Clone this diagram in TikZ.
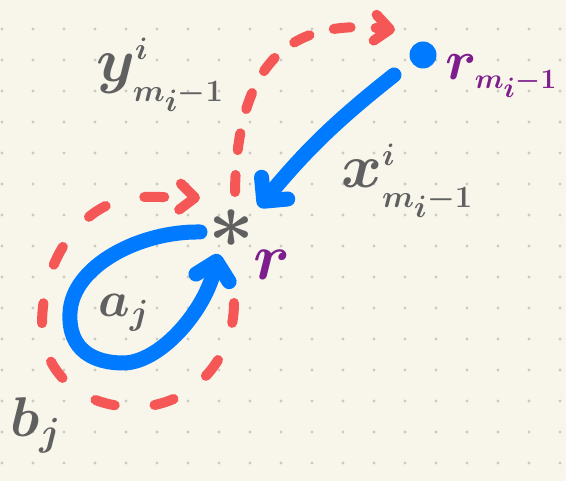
\RequirePackage{fix-cm}
\documentclass[tikz,border=0pt]{standalone}
\usetikzlibrary{arrows.meta}

\definecolor{paper}{RGB}{248,246,235}
\definecolor{dotgray}{RGB}{204,202,194}
\definecolor{penred}{RGB}{245,86,86}
\definecolor{penblue}{RGB}{0,122,255}
\definecolor{penpurple}{RGB}{126,30,140}
\definecolor{pengray}{RGB}{96,96,96}

\tikzset{
  bluepen/.style={penblue, line width=15pt, line cap=round, -{Straight Barb[round,length=17pt,width=34pt]}},
  redpen/.style={penred, line width=10pt, line cap=round, -{Straight Barb[round,length=15pt,width=26pt]}},
  inklabel/.style={inner sep=0pt, text=pengray, font=\fontsize{#1}{#1}\selectfont\boldmath},
}
\newcommand{\stepidx}{\scriptscriptstyle m_i-1}

\begin{document}
\begin{tikzpicture}[x=1pt,y=1pt]
% paper and dot grid:
\fill[paper] (0,0) rectangle (566,481);
\useasboundingbox (0,0) rectangle (566,481);
\foreach \i in {0,...,18}
  \foreach \j in {0,...,14}
    \fill[dotgray] (2+31*\i,452-31*\j) circle (1.7pt);

% points:
\node[circle, fill=penblue, minimum size=27pt, inner sep=0pt] (rprev) at (423,426) {};
\node[inklabel=80] (star) at (231,252) {$\ast$};
\coordinate (ytip) at ([shift={(-28,25)}]rprev.center);

% red dashed paths:
\draw[redpen, dash pattern=on 17pt off 25pt] ([shift={(4,37)}]star.center)
  .. controls (237,430) and (300,462) .. (ytip);
\draw[redpen, dash pattern=on 20pt off 40pt] ([shift={(3,-74)}]star.center)
  .. controls (234,120) and (190,74) .. (135,74)
  .. controls (80,74) and (42,110) .. (42,156)
  .. controls (42,230) and (90,284) .. (142,284)
  .. controls (165,284) and (185,284) .. ([shift={(-31,31)}]star.center);

% blue paths:
\draw[bluepen] ([shift={(-29,-20)}]rprev.center) to[bend right=6] ([shift={(28,22)}]star.center);
\draw[bluepen] ([shift={(-31,-3)}]star.center)
  .. controls (140,250) and (72,215) .. (70,168)
  .. controls (68,130) and (95,118) .. (123,118)
  .. controls (160,118) and (205,170) .. ([shift={(-13,-25)}]star.center);

% labels:
\node[inklabel=62, anchor=base west] (ylab) at (96,399) {$y^{\scriptscriptstyle i}_{\stepidx}$};
\node[inklabel=62, anchor=base west] (xlab) at (341,293) {$x^{\scriptscriptstyle i}_{\stepidx}$};
\node[inklabel=56, anchor=base west, text=penpurple] (rprevlab) at (445,401) {$r_{\stepidx}$};
\node[inklabel=66, anchor=base west, text=penpurple] (rlab) at (253,201) {$r$};
\node[inklabel=50, anchor=base west] (alab) at (98,164) {$a_j$};
\node[inklabel=56, anchor=base west] (blab) at (10,44) {$b_j$};
\end{tikzpicture}
\end{document}
